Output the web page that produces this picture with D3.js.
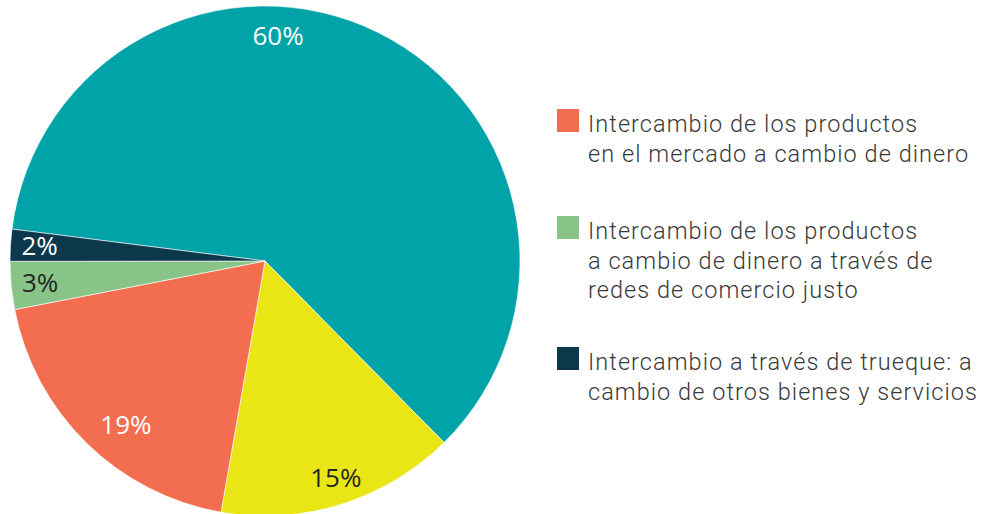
<!DOCTYPE html>
<html><head><meta charset="utf-8">
<script src="https://cdn.jsdelivr.net/npm/d3@7"></script>
<style>body{margin:0;background:#fff}svg{display:block}</style>
</head><body>
<svg id="chart" width="986" height="514"></svg>
<script>
const categories = ["Otros (60%)", "Otros (15%)", "Intercambio de los productos en el mercado a cambio de dinero", "Intercambio de los productos a cambio de dinero a través de redes de comercio justo", "Intercambio a través de trueque: a cambio de otros bienes y servicios"];
const values = [60, 15, 19, 3, 2];
const colors = ["#00A3A7", "#EAE615", "#F36E50", "#88C487", "#0B384B"];
const labelColors = ["#ffffff", "#262626", "#ffffff", "#262626", "#ffffff"];
const legendItems = [2, 3, 4];
const legendLines = [
  ["Intercambio de los productos", "en el mercado a cambio de dinero"],
  ["Intercambio de los productos", "a cambio de dinero a través de", "redes de comercio justo"],
  ["Intercambio a través de trueque: a", "cambio de otros bienes y servicios"]
];

const svg = d3.select("#chart");
const cx = 265, cy = 261, R = 255;
const start = -82.8 * Math.PI / 180;
const pie = d3.pie().sort(null).value(d => d).startAngle(start).endAngle(start + 2 * Math.PI);
const arcs = pie(values);
const arc = d3.arc().innerRadius(0).outerRadius(R);
const g = svg.append("g").attr("transform", `translate(${cx},${cy})`);
g.selectAll("path").data(arcs).join("path")
  .attr("d", arc).attr("fill", (d, i) => colors[i])
  .attr("stroke", "#ffffff").attr("stroke-width", 0.6);

// label placement (angle in degrees, radius) per slice
const labelPlace = [[3.3, 226], [161.9, 228], [220.3, 215], [264.4, 226], [274, 226]];
g.selectAll("text.lbl").data(arcs).join("text").attr("class", "lbl")
  .each(function(d, i) {
    const a = labelPlace[i][0] * Math.PI / 180, r = labelPlace[i][1];
    d3.select(this).attr("x", r * Math.sin(a)).attr("y", -r * Math.cos(a)).attr("dy", "0.36em");
  })
  .attr("text-anchor", "middle")
  .attr("font-family", "Open Sans, sans-serif")
  .attr("font-size", 26)
  .attr("fill", (d, i) => labelColors[i])
  .text(d => d.data + "%");

const legTop = [109, 216, 347];
const lg = svg.append("g");
legendItems.forEach((ci, k) => {
  lg.append("rect").attr("x", 557).attr("y", legTop[k]).attr("width", 22).attr("height", 23).attr("fill", colors[ci]);
  legendLines[k].forEach((t, j) => {
    lg.append("text").attr("x", 588).attr("y", legTop[k] + 23 + j * 29.5)
      .attr("font-family", "Roboto, sans-serif").attr("font-weight", 300)
      .attr("font-size", 23.5).attr("letter-spacing", "1.05px").attr("fill", "#3a3a3a").text(t);
  });
});
</script>
</body></html>
